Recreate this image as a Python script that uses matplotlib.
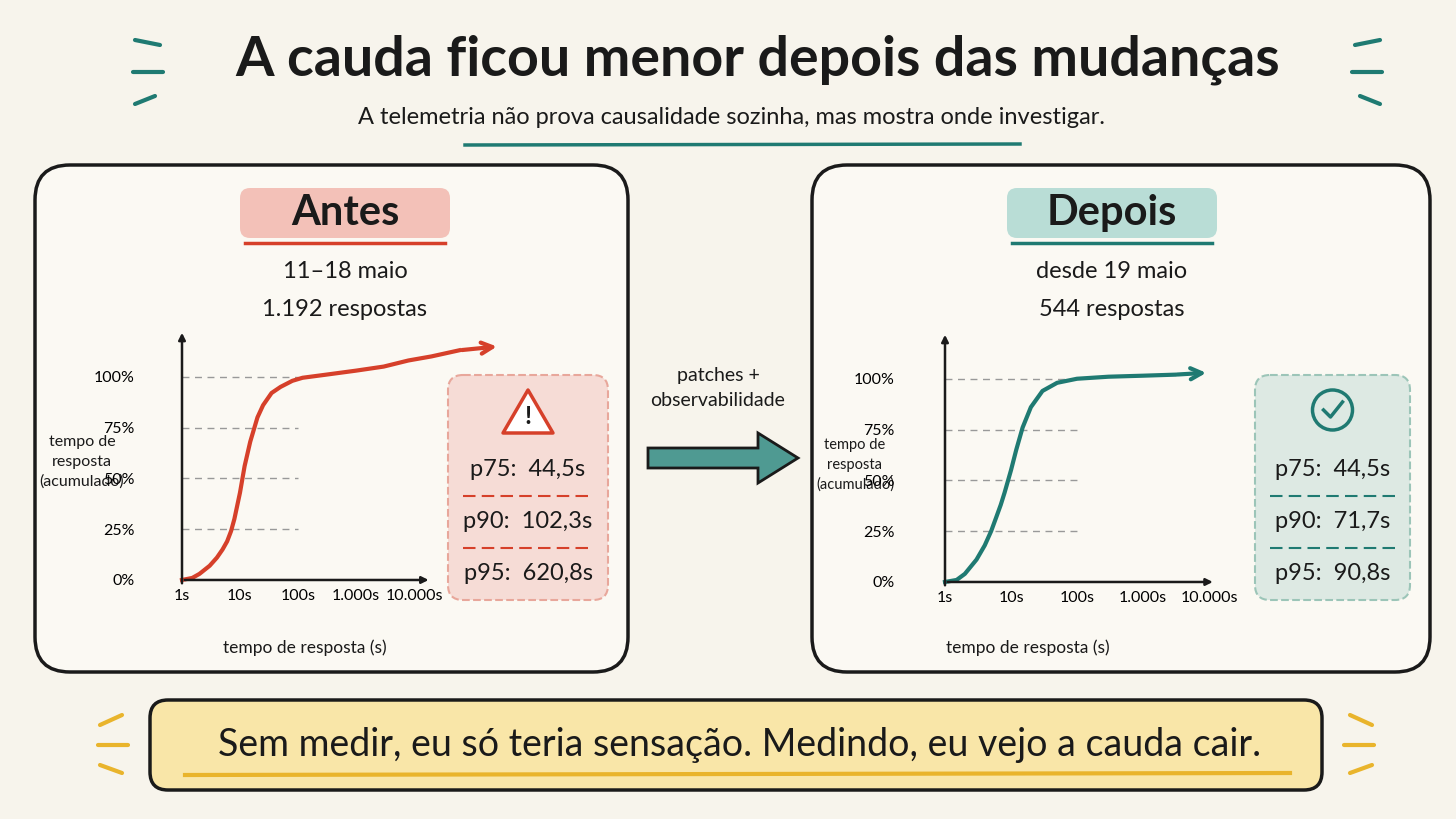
import numpy as np
import matplotlib.pyplot as plt
from matplotlib.patches import FancyBboxPatch, FancyArrow, Circle

plt.rcParams['font.family'] = ['Lato', 'DejaVu Sans']

# dados
antes_t = [1, 1.5, 2, 3, 4, 5, 6, 7, 8, 10, 12, 15, 20, 25, 35, 50, 80, 120, 300, 1000, 3000, 8000, 20000, 60000, 300000]
antes_p = [0, 1, 3, 7, 11, 15, 19, 24, 30, 43, 56, 68, 80, 86, 92, 95, 98, 99.5, 101, 103, 105, 108, 110, 113, 115]
depois_t = [1, 1.5, 2, 3, 4, 5, 6, 7, 8, 10, 12, 15, 20, 30, 50, 100, 300, 1000, 3000, 10000]
depois_p = [0, 1, 4, 11, 18, 25, 32, 38, 44, 55, 65, 76, 86, 94, 98, 100, 101, 101.5, 102, 103]
pct_ticks = [0, 25, 50, 75, 100]
pct_labels = ['0%', '25%', '50%', '75%', '100%']
x_ticks = [1, 10, 100, 1000, 10000]
x_labels = ['1s', '10s', '100s', '1.000s', '10.000s']
antes_stats = ['p75:  44,5s', 'p90:  102,3s', 'p95:  620,8s']
depois_stats = ['p75:  44,5s', 'p90:  71,7s', 'p95:  90,8s']

RED = '#d6402a'
TEAL = '#1f7a72'
BG = '#f7f4ec'
INK = '#1a1a1a'

fig = plt.figure(figsize=(14.56, 8.19), dpi=100, facecolor=BG)
bg = fig.add_axes([0, 0, 1, 1])
bg.set_xlim(0, 1456)
bg.set_ylim(819, 0)
bg.axis('off')

# título
bg.text(758, 60, 'A cauda ficou menor depois das mudanças', ha='center', va='center',
        fontsize=40, fontweight='bold', color=INK)
bg.text(732, 118, 'A telemetria não prova causalidade sozinha, mas mostra onde investigar.',
        ha='center', va='center', fontsize=17, color=INK)
bg.plot([465, 1020], [145, 144], color=TEAL, lw=2.5)
for sx, d in [(135, -1), (1380, 1)]:
    bg.plot([sx - 25 * d, sx], [45, 40], color=TEAL, lw=3, solid_capstyle='round')
    bg.plot([sx - 28 * d, sx + 2 * d], [72, 72], color=TEAL, lw=3, solid_capstyle='round')
    bg.plot([sx - 20 * d, sx], [96, 104], color=TEAL, lw=3, solid_capstyle='round')

# painéis
for x0, x1 in [(35, 628), (812, 1430)]:
    bg.add_patch(FancyBboxPatch((x0, 165), x1 - x0, 507, boxstyle='round,pad=0,rounding_size=35',
                                fc='#fbf9f3', ec=INK, lw=2.5))

def header(cx, title, col, fill, l1, l2):
    bg.add_patch(FancyBboxPatch((cx - 105, 188), 210, 50, boxstyle='round,pad=0,rounding_size=10',
                                fc=fill, ec='none', alpha=0.8))
    bg.plot([cx - 100, cx + 100], [243, 243], color=col, lw=2.5)
    bg.text(cx, 213, title, ha='center', va='center', fontsize=30, fontweight='bold', color=INK)
    bg.text(cx, 272, l1, ha='center', va='center', fontsize=17, color=INK)
    bg.text(cx, 309, l2, ha='center', va='center', fontsize=17, color=INK)

header(345, 'Antes', RED, '#f1b4aa', '11–18 maio', '1.192 respostas')
header(1112, 'Depois', TEAL, '#a9d6cf', 'desde 19 maio', '544 respostas')

def chart(rect, t, p, col, xlim, axis_end):
    ax = fig.add_axes(rect)
    ax.set_facecolor('none')
    ax.set_xscale('log')
    ax.set_xlim(*xlim)
    ax.set_ylim(-9.85, 123)
    for s in ax.spines.values():
        s.set_visible(False)
    ax.tick_params(length=0, labelsize=11.5, pad=-8)
    ax.tick_params(axis='y', pad=4)
    ax.set_yticks(pct_ticks, pct_labels)
    ax.set_xticks(x_ticks, x_labels)
    ax.minorticks_off()
    for v in pct_ticks[1:]:
        ax.plot([1, 100], [v, v], ls=(0, (5, 4)), color='#999', lw=1)
    ax.annotate('', xy=(axis_end, 0), xytext=(1, 0),
                arrowprops=dict(arrowstyle='-|>', color=INK, lw=1.8))
    ax.annotate('', xy=(1, 123), xytext=(1, -3),
                arrowprops=dict(arrowstyle='-|>', color=INK, lw=1.8))
    ax.plot(t[:-1], p[:-1], color=col, lw=3)
    ax.annotate('', xy=(t[-1], p[-1]), xytext=(t[-2], p[-2]),
                arrowprops=dict(arrowstyle='->,head_width=0.4,head_length=0.8', color=col, lw=3))
    return ax

# esquerda: 1s em x=182, década ~58 px
chart([140 / 1456, 1 - 600 / 819, (560 - 140) / 1456, 270 / 819], antes_t, antes_p, RED,
      (10 ** (-42 / 58), 10 ** (378 / 58)), 10 ** 4.3)
# direita: 1s em x=945, década ~66 px
chart([900 / 1456, 1 - 602 / 819, (1230 - 900) / 1456, 270 / 819], depois_t, depois_p, TEAL,
      (10 ** (-45 / 66), 10 ** (285 / 66)), 10 ** 4.1)

for cx, cy in [(345, 648), (1068, 648)]:
    bg.text(cx - 40, cy, 'tempo de resposta (s)', ha='center', va='center', fontsize=12.5, color=INK)
bg.text(82, 462, 'tempo de\nresposta\n(acumulado)', ha='center', va='center', fontsize=11.5, color=INK, linespacing=1.5)
bg.text(855, 465, 'tempo de\nresposta\n(acumulado)', ha='center', va='center', fontsize=10.5, color=INK, linespacing=1.5)

# caixas de percentis
def statbox(x0, x1, fill, edge, line, stats):
    bg.add_patch(FancyBboxPatch((x0, 375), x1 - x0, 225, boxstyle='round,pad=0,rounding_size=15',
                                fc=fill, ec=edge, lw=1.5, ls='--'))
    cx = (x0 + x1) / 2
    for i, s in enumerate(stats):
        y = 470 + i * 52
        bg.text(cx, y, s, ha='center', va='center', fontsize=17, color=INK)
        if i < 2:
            bg.plot([x0 + 15, x1 - 15], [y + 26, y + 26], color=line, lw=1.5, ls=(0, (6, 3)))
    return cx

cx = statbox(448, 608, '#f6dcd6', '#e8a79b', RED, antes_stats)
bg.fill([cx - 25, cx + 25, cx], [433, 433, 390], fc='white', ec=RED, lw=2.5, joinstyle='round')
bg.text(cx, 416, '!', ha='center', va='center', fontsize=18, fontweight='bold', color=INK)
cx = statbox(1255, 1410, '#dde9e3', '#9cc5b8', TEAL, depois_stats)
bg.add_patch(Circle((cx, 410), 20, fc='none', ec=TEAL, lw=2.5))
bg.plot([cx - 9, cx - 2, cx + 10], [410, 417, 402], color=TEAL, lw=2.5)

# seta do meio
bg.text(718, 388, 'patches +\nobservabilidade', ha='center', va='center', fontsize=14, color=INK, linespacing=1.6)
bg.add_patch(FancyArrow(648, 458, 110, 0, width=20, head_width=50, head_length=40,
                        fc='#4f9a92', ec=INK, lw=2))

# rodapé
bg.add_patch(FancyBboxPatch((150, 700), 1172, 90, boxstyle='round,pad=0,rounding_size=18',
                            fc='#f9e6a8', ec=INK, lw=2.5))
bg.text(740, 745, 'Sem medir, eu só teria sensação. Medindo, eu vejo a cauda cair.',
        ha='center', va='center', fontsize=27, color=INK)
bg.plot([185, 1290], [775, 773], color='#e9b42c', lw=3)
for sx, d in [(110, -1), (1362, 1)]:
    bg.plot([sx - 12 * d, sx + 10 * d], [715, 725], color='#e9b42c', lw=3, solid_capstyle='round')
    bg.plot([sx - 18 * d, sx + 12 * d], [745, 745], color='#e9b42c', lw=3, solid_capstyle='round')
    bg.plot([sx - 12 * d, sx + 10 * d], [773, 765], color='#e9b42c', lw=3, solid_capstyle='round')

fig.savefig('out.png', dpi=100, facecolor=BG)
